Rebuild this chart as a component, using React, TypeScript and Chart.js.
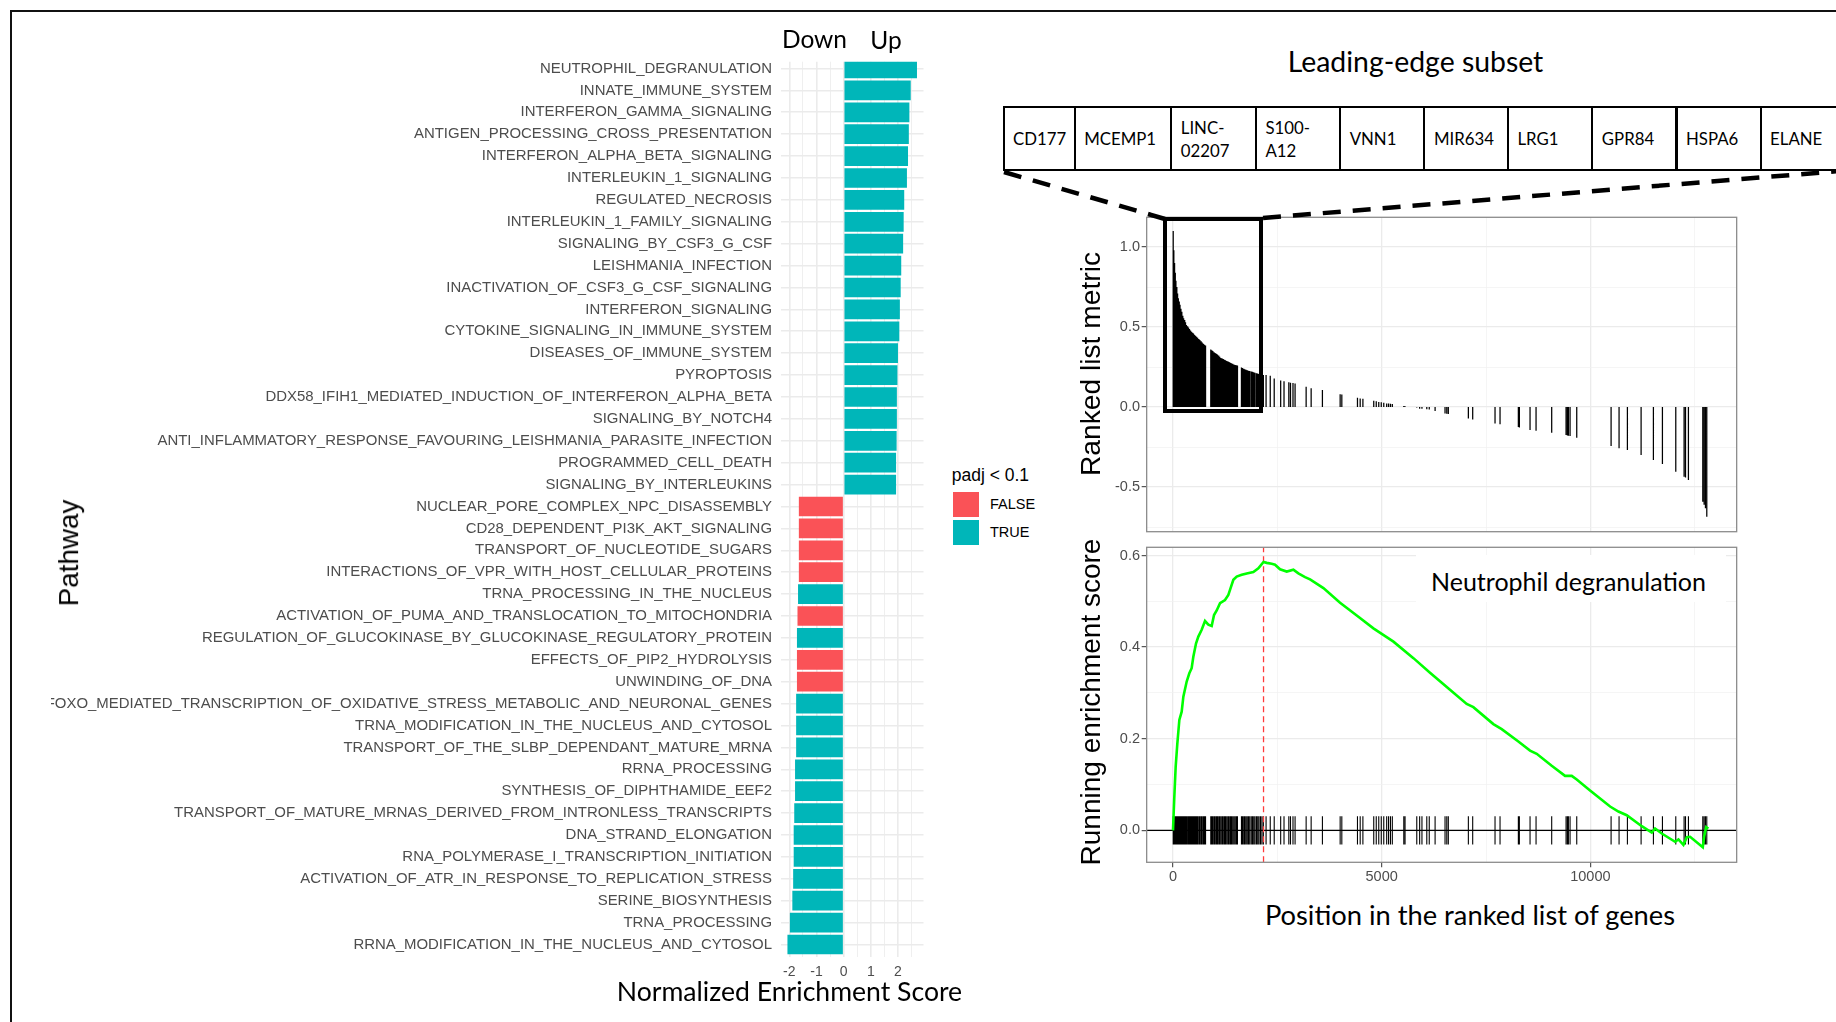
import React, { useEffect, useRef } from "react";
import { Chart, registerables } from "chart.js";

Chart.register(...registerables);

// ---------------- data ----------------
const pathways = [
  "NEUTROPHIL_DEGRANULATION",
  "INNATE_IMMUNE_SYSTEM",
  "INTERFERON_GAMMA_SIGNALING",
  "ANTIGEN_PROCESSING_CROSS_PRESENTATION",
  "INTERFERON_ALPHA_BETA_SIGNALING",
  "INTERLEUKIN_1_SIGNALING",
  "REGULATED_NECROSIS",
  "INTERLEUKIN_1_FAMILY_SIGNALING",
  "SIGNALING_BY_CSF3_G_CSF",
  "LEISHMANIA_INFECTION",
  "INACTIVATION_OF_CSF3_G_CSF_SIGNALING",
  "INTERFERON_SIGNALING",
  "CYTOKINE_SIGNALING_IN_IMMUNE_SYSTEM",
  "DISEASES_OF_IMMUNE_SYSTEM",
  "PYROPTOSIS",
  "DDX58_IFIH1_MEDIATED_INDUCTION_OF_INTERFERON_ALPHA_BETA",
  "SIGNALING_BY_NOTCH4",
  "ANTI_INFLAMMATORY_RESPONSE_FAVOURING_LEISHMANIA_PARASITE_INFECTION",
  "PROGRAMMED_CELL_DEATH",
  "SIGNALING_BY_INTERLEUKINS",
  "NUCLEAR_PORE_COMPLEX_NPC_DISASSEMBLY",
  "CD28_DEPENDENT_PI3K_AKT_SIGNALING",
  "TRANSPORT_OF_NUCLEOTIDE_SUGARS",
  "INTERACTIONS_OF_VPR_WITH_HOST_CELLULAR_PROTEINS",
  "TRNA_PROCESSING_IN_THE_NUCLEUS",
  "ACTIVATION_OF_PUMA_AND_TRANSLOCATION_TO_MITOCHONDRIA",
  "REGULATION_OF_GLUCOKINASE_BY_GLUCOKINASE_REGULATORY_PROTEIN",
  "EFFECTS_OF_PIP2_HYDROLYSIS",
  "UNWINDING_OF_DNA",
  "FOXO_MEDIATED_TRANSCRIPTION_OF_OXIDATIVE_STRESS_METABOLIC_AND_NEURONAL_GENES",
  "TRNA_MODIFICATION_IN_THE_NUCLEUS_AND_CYTOSOL",
  "TRANSPORT_OF_THE_SLBP_DEPENDANT_MATURE_MRNA",
  "RRNA_PROCESSING",
  "SYNTHESIS_OF_DIPHTHAMIDE_EEF2",
  "TRANSPORT_OF_MATURE_MRNAS_DERIVED_FROM_INTRONLESS_TRANSCRIPTS",
  "DNA_STRAND_ELONGATION",
  "RNA_POLYMERASE_I_TRANSCRIPTION_INITIATION",
  "ACTIVATION_OF_ATR_IN_RESPONSE_TO_REPLICATION_STRESS",
  "SERINE_BIOSYNTHESIS",
  "TRNA_PROCESSING",
  "RRNA_MODIFICATION_IN_THE_NUCLEUS_AND_CYTOSOL",
];

const nesValues = [
  2.7, 2.47, 2.42, 2.4, 2.37, 2.33, 2.23, 2.21, 2.19, 2.12, 2.1, 2.07, 2.05, 2.0,
  1.98, 1.96, 1.96, 1.95, 1.93, 1.93,
  -1.65, -1.65, -1.65, -1.65, -1.68, -1.7, -1.72, -1.72, -1.72, -1.75, -1.75,
  -1.75, -1.79, -1.79, -1.82, -1.84, -1.84, -1.86, -1.89, -1.98, -2.07,
];

// padj < 0.1 ?
const padjSignificant = [
  true, true, true, true, true, true, true, true, true, true, true, true, true,
  true, true, true, true, true, true, true,
  false, false, false, false, true, false, true, false, false, true, true, true,
  true, true, true, true, true, true, true, true, true,
];
const padjLegendLabels = ["FALSE", "TRUE"];

const nesMajorTicks = [-2, -1, 0, 1, 2];
const nesMinorTicks = [-1.5, -0.5, 0.5, 1.5, 2.5];

const leadingEdgeGenes = [
  "CD177", "MCEMP1", "LINC-\n02207", "S100-\nA12", "VNN1",
  "MIR634", "LRG1", "GPR84", "HSPA6", "ELANE",
];

// gene-set hits: position in ranked list and the ranked list metric there
const hitPositions = [
  5, 20, 38, 55, 70, 92, 110, 128, 150, 168, 190, 212, 235, 255, 280, 300, 322,
  350, 372, 395, 420, 445, 470, 490, 515, 540, 565, 590, 620, 645, 675, 700, 730,
  755, 780,
  905, 930, 955, 985, 1010, 1040, 1065, 1095, 1120, 1150, 1180, 1205, 1235, 1260,
  1290, 1320, 1345, 1375, 1400, 1430, 1460, 1490, 1520, 1545,
  1640, 1665, 1695, 1720, 1750, 1780, 1810, 1840, 1875, 1905, 1935, 1965, 2000,
  2030, 2060, 2095, 2130, 2165,
  2230, 2330, 2425, 2580, 2660, 2775, 2815, 2875, 2925, 3190, 3310, 3580, 4005,
  4045, 4420, 4485, 4550, 4810, 4870, 4930, 4990, 5050, 5120, 5165, 5210, 5255,
  5530, 5560, 5841, 5910, 5965, 6081, 6140, 6280, 6518, 6560, 6597, 7077, 7181,
  7716, 7836, 8275, 8299, 8555, 8699, 9074, 9418, 9450, 9474, 9514, 9674, 10497,
  10688, 10888, 11216, 11511, 11727, 12047, 12246, 12280, 12350, 12694, 12726,
  12758, 12790,
];
const hitMetrics = [
  1.1, 0.98, 0.9, 0.84, 0.79, 0.75, 0.71, 0.68, 0.66, 0.64, 0.615, 0.595, 0.57,
  0.555, 0.544, 0.53, 0.513, 0.505, 0.498, 0.488, 0.478, 0.47, 0.464, 0.459,
  0.452, 0.446, 0.44, 0.433, 0.425, 0.419, 0.411, 0.404, 0.396, 0.389, 0.384,
  0.36, 0.355, 0.35, 0.343, 0.338, 0.333, 0.329, 0.322, 0.315, 0.307, 0.303, 0.3,
  0.296, 0.293, 0.288, 0.284, 0.281, 0.277, 0.274, 0.27, 0.266, 0.263, 0.261,
  0.259,
  0.247, 0.244, 0.24, 0.236, 0.233, 0.23, 0.227, 0.225, 0.222, 0.22, 0.217,
  0.215, 0.211, 0.209, 0.207, 0.205, 0.203, 0.201,
  0.2, 0.195, 0.179, 0.166, 0.162, 0.155, 0.152, 0.15, 0.148, 0.127, 0.117,
  0.106, 0.08, 0.078, 0.058, 0.054, 0.052, 0.04, 0.037, 0.032, 0.03, 0.027,
  0.023, 0.022, 0.02, 0.019, 0.007, 0.005, -0.002, -0.01, -0.011, -0.013, -0.015,
  -0.025, -0.04, -0.042, -0.044, -0.071, -0.077, -0.102, -0.108, -0.125, -0.128,
  -0.144, -0.148, -0.16, -0.175, -0.177, -0.179, -0.181, -0.192, -0.244, -0.258,
  -0.269, -0.3, -0.331, -0.356, -0.404, -0.435, -0.44, -0.456, -0.592, -0.61,
  -0.633, -0.685,
];

// running enrichment score curve
const esPositions = [
  0, 30, 64, 104, 152, 208, 248, 328, 391, 447, 487, 551, 607, 687, 767, 847,
  927, 983, 1047, 1127, 1246, 1326, 1366, 1446, 1526, 1646, 1766, 1925, 2045,
  2169, 2245, 2365, 2445, 2565, 2725, 2884, 3004, 3164, 3284, 3604, 4003, 4403,
  4802, 5282, 5761, 6158, 6637, 7037, 7197, 7676, 7876, 8275, 8555, 8715, 9074,
  9394, 9554, 9674, 9993, 10473, 10673, 10872, 11232, 11471, 11551, 11711,
  12031, 12111, 12230, 12310, 12390, 12694, 12726, 12774, 12830,
];
const esValues = [
  0, 0.07, 0.139, 0.19, 0.241, 0.259, 0.292, 0.325, 0.343, 0.354, 0.379, 0.408,
  0.423, 0.438, 0.457, 0.449, 0.446, 0.47, 0.48, 0.496, 0.503, 0.514, 0.525,
  0.547, 0.554, 0.558, 0.561, 0.564, 0.572, 0.586, 0.584, 0.582, 0.58, 0.57,
  0.565, 0.569, 0.561, 0.553, 0.548, 0.529, 0.497, 0.469, 0.441, 0.412, 0.376,
  0.344, 0.307, 0.276, 0.269, 0.232, 0.221, 0.194, 0.174, 0.167, 0.141, 0.119,
  0.119, 0.111, 0.087, 0.052, 0.041, 0.033, 0.009, -0.005, 0.004, -0.007,
  -0.025, -0.02, -0.032, -0.015, -0.014, -0.037, -0.014, 0.007, 0.004,
];
const peakPosition = 2169;

const geneMajorTicks = [0, 5000, 10000];
const geneMinorTicks = [2500, 7500, 12500];
const rankMajorTicks = [-0.5, 0, 0.5, 1];
const rankMinorTicks = [-0.75, -0.25, 0.25, 0.75];
const esMajorTicks = [0, 0.2, 0.4, 0.6];
const esMinorTicks = [0.1, 0.3, 0.5];

// ---------------- style ----------------
const SANS = '"Liberation Sans", Arial, Helvetica, sans-serif';
const CAL = 'Lato, "Open Sans", sans-serif';
const TICK_COLOR = "#4d4d4d";
const TEAL = "#00B6B9";
const RED = "#FA5257";
const GENE_MIN = -631;
const GENE_MAX = 13506;

const near = (list: number[], v: number) => list.some((m) => Math.abs(m - v) < 1e-9);

const zeroPad = (s: any) => {
  s.paddingTop = 0;
  s.paddingBottom = 0;
  s.paddingLeft = 0;
  s.paddingRight = 0;
};

const panelBorder = {
  id: "panelBorder",
  afterDraw(chart: any, _args: any, opts: any) {
    if (!opts || !opts.color) return;
    const { ctx, chartArea } = chart;
    ctx.save();
    ctx.strokeStyle = opts.color;
    ctx.lineWidth = opts.width;
    ctx.strokeRect(
      chartArea.left,
      chartArea.top,
      chartArea.right - chartArea.left,
      chartArea.bottom - chartArea.top
    );
    ctx.restore();
  },
};

function gridScale(o: {
  min: number;
  max: number;
  major: number[];
  minor: number[];
  fmt: (v: number) => string;
  fit: (s: any) => void;
  showLabels: boolean;
  drawTicks: boolean;
  padding: number;
}) {
  const all = [...o.major, ...o.minor].sort((a, b) => a - b);
  return {
    type: "linear",
    min: o.min,
    max: o.max,
    offset: false,
    afterBuildTicks: (axis: any) => {
      axis.ticks = all.map((value) => ({ value }));
    },
    afterFit: (s: any) => {
      zeroPad(s);
      o.fit(s);
    },
    grid: {
      offset: false,
      color: (c: any) => (c.tick && !near(o.major, c.tick.value) ? "#F1F1F1" : "#EBEBEB"),
      lineWidth: (c: any) => (c.tick && !near(o.major, c.tick.value) ? 0.7 : 1.3),
      drawTicks: o.drawTicks,
      tickLength: 5,
      tickWidth: 1.1,
      tickColor: (c: any) => (c.tick && near(o.major, c.tick.value) ? "#444" : "rgba(0,0,0,0)"),
    },
    border: { display: false },
    ticks: {
      display: o.showLabels,
      autoSkip: false,
      maxRotation: 0,
      minRotation: 0,
      padding: o.padding,
      color: TICK_COLOR,
      font: { family: SANS, size: 14.5 },
      callback: (v: number) => (near(o.major, v) ? o.fmt(v) : ""),
    },
  };
}

type Box = { left: number; top: number; width: number; height: number };

function ChartCanvas({ box, build }: { box: Box; build: () => any }) {
  const ref = useRef<HTMLCanvasElement>(null);
  useEffect(() => {
    const chart = new Chart(ref.current as HTMLCanvasElement, build());
    return () => chart.destroy();
  }, []);
  return (
    <canvas
      ref={ref}
      width={box.width}
      height={box.height}
      style={{
        position: "absolute",
        left: box.left,
        top: box.top,
        width: box.width,
        height: box.height,
      }}
    />
  );
}

const commonOptions = {
  responsive: false,
  animation: false,
  devicePixelRatio: 1,
  events: [],
};

// ---------- Chart A : NES bars ----------
const barBox: Box = { left: 51, top: 50, width: 890, height: 950 };
function buildBars() {
  const allX = [...nesMajorTicks, ...nesMinorTicks].sort((a, b) => a - b);
  return {
    type: "bar",
    data: {
      datasets: [
        {
          data: nesValues.map((v, i) => ({ x: v, y: i })),
          backgroundColor: padjSignificant.map((s) => (s ? TEAL : RED)),
          borderWidth: 0,
          barPercentage: 0.9,
          categoryPercentage: 1,
        },
      ],
    },
    options: {
      ...commonOptions,
      indexAxis: "y",
      layout: { padding: { top: 11.7, right: 17.5, left: 0, bottom: 0 } },
      plugins: { legend: { display: false }, tooltip: { enabled: false } },
      scales: {
        y: {
          type: "linear",
          reverse: true,
          min: -0.31,
          max: 40.57,
          offset: false,
          afterBuildTicks: (axis: any) => {
            axis.ticks = pathways.map((_, i) => ({ value: i }));
          },
          afterFit: (s: any) => {
            zeroPad(s);
            s.width = 730.2;
          },
          grid: { offset: false, color: "#EBEBEB", lineWidth: 1.6, drawTicks: false },
          border: { display: false },
          ticks: {
            autoSkip: false,
            padding: 9.2,
            color: TICK_COLOR,
            font: { family: SANS, size: 14.95 },
            callback: (v: number) => pathways[v],
          },
        },
        x: {
          type: "linear",
          min: -2.3,
          max: 2.94,
          offset: false,
          afterBuildTicks: (axis: any) => {
            axis.ticks = allX.map((value) => ({ value }));
          },
          afterFit: (s: any) => {
            zeroPad(s);
            s.height = 43;
          },
          grid: {
            offset: false,
            color: "#EBEBEB",
            lineWidth: (c: any) => (c.tick && !near(nesMajorTicks, c.tick.value) ? 0.8 : 1.6),
            drawTicks: false,
          },
          border: { display: false },
          ticks: {
            autoSkip: false,
            maxRotation: 0,
            padding: 6.6,
            color: TICK_COLOR,
            font: { family: SANS, size: 14 },
            callback: (v: number) => (near(nesMajorTicks, v) ? String(v) : ""),
          },
        },
      },
    },
  };
}

// ---------- Chart B : ranked list metric ----------
const rankBox: Box = { left: 1096, top: 208, width: 650, height: 330 };
function buildRanked() {
  const segs: any[] = [];
  hitPositions.forEach((p, i) => {
    segs.push({ x: p, y: 0 }, { x: p, y: hitMetrics[i] }, { x: p, y: null });
  });
  return {
    type: "line",
    data: {
      datasets: [
        {
          data: segs,
          borderColor: "#000",
          borderWidth: 1.25,
          pointRadius: 0,
          spanGaps: false,
          tension: 0,
          fill: false,
        },
      ],
    },
    options: {
      ...commonOptions,
      layout: { padding: { top: 9.3, right: 9.33, left: 0, bottom: 0 } },
      plugins: {
        legend: { display: false },
        tooltip: { enabled: false },
        panelBorder: { color: "#8c8c8c", width: 1.3 },
      },
      scales: {
        x: gridScale({
          min: GENE_MIN,
          max: GENE_MAX,
          major: geneMajorTicks,
          minor: geneMinorTicks,
          fmt: (v) => String(v),
          fit: (s: any) => {
            s.height = 6.3;
          },
          showLabels: false,
          drawTicks: false,
          padding: 0,
        }),
        y: gridScale({
          min: -0.779,
          max: 1.186,
          major: rankMajorTicks,
          minor: rankMinorTicks,
          fmt: (v) => v.toFixed(1),
          fit: (s: any) => {
            s.width = 50.67;
          },
          showLabels: true,
          drawTicks: true,
          padding: 1.7,
        }),
      },
    },
    plugins: [panelBorder],
  };
}

// ---------- Chart C : running enrichment score ----------
const esBox: Box = { left: 1096, top: 538, width: 650, height: 360 };
function buildES() {
  const ticks: any[] = [];
  hitPositions.forEach((p) => {
    ticks.push({ x: p, y: -0.031 }, { x: p, y: 0.031 }, { x: p, y: null });
  });
  const line = (data: any[], color: string, width: number, extra: any = {}) => ({
    data,
    borderColor: color,
    borderWidth: width,
    pointRadius: 0,
    spanGaps: false,
    tension: 0,
    fill: false,
    ...extra,
  });
  return {
    type: "line",
    data: {
      datasets: [
        line(
          esPositions.map((x, i) => ({ x, y: esValues[i] })),
          "#00FF00",
          2.6
        ),
        line(
          [
            { x: peakPosition, y: -0.0698 },
            { x: peakPosition, y: 0.618 },
          ],
          "#ff3b3b",
          1.3,
          { borderDash: [6, 4] }
        ),
        line(
          [
            { x: GENE_MIN, y: 0 },
            { x: GENE_MAX, y: 0 },
          ],
          "#000",
          1.3
        ),
        line(ticks, "#000", 1.1),
      ],
    },
    options: {
      ...commonOptions,
      layout: { padding: { top: 9.3, right: 9.33, left: 0, bottom: 0 } },
      plugins: {
        legend: { display: false },
        tooltip: { enabled: false },
        panelBorder: { color: "#8c8c8c", width: 1.3 },
      },
      scales: {
        x: gridScale({
          min: GENE_MIN,
          max: GENE_MAX,
          major: geneMajorTicks,
          minor: geneMinorTicks,
          fmt: (v) => String(v),
          fit: (s: any) => {
            s.height = 35.7;
          },
          showLabels: true,
          drawTicks: true,
          padding: 1,
        }),
        y: gridScale({
          min: -0.0698,
          max: 0.618,
          major: esMajorTicks,
          minor: esMinorTicks,
          fmt: (v) => v.toFixed(1),
          fit: (s: any) => {
            s.width = 50.67;
          },
          showLabels: true,
          drawTicks: true,
          padding: 1.7,
        }),
      },
    },
    plugins: [panelBorder],
  };
}

// ---------- text helpers ----------
function Label(props: {
  x: number;
  y: number;
  text: string;
  size: number;
  family: string;
  anchor?: "start" | "middle";
  rotate?: boolean;
  color?: string;
}) {
  const tx = props.anchor === "start" ? "0" : "-50%";
  return (
    <div
      style={{
        position: "absolute",
        left: props.x,
        top: props.y,
        transform: `translate(${tx}, -50%)${props.rotate ? " rotate(-90deg)" : ""}`,
        fontFamily: props.family,
        fontSize: props.size,
        lineHeight: 1,
        whiteSpace: "nowrap",
        color: props.color || "#000",
      }}
    >
      {props.text}
    </div>
  );
}

const tableEdges = [1003.5, 1074.7, 1171.3, 1256, 1340.2, 1424.4, 1508, 1592.3, 1676.5, 1760.6, 1845];

export default function App() {
  return (
    <div
      style={{
        position: "fixed",
        left: 0,
        top: 0,
        width: 1836,
        height: 1022,
        overflow: "hidden",
        background: "#fff",
      }}
    >
      {/* outer frame */}
      <div
        style={{
          position: "absolute",
          left: 9.5,
          top: 9.5,
          width: 1900,
          height: 1100,
          borderTop: "2.5px solid #111",
          borderLeft: "2.5px solid #111",
        }}
      />

      <ChartCanvas box={barBox} build={buildBars} />
      <ChartCanvas box={rankBox} build={buildRanked} />
      <ChartCanvas box={esBox} build={buildES} />

      {/* bar chart texts */}
      <Label x={814.5} y={38.6} text="Down" size={24.5} family={CAL} />
      <Label x={886} y={40.2} text="Up" size={24.5} family={CAL} />
      <Label x={789.5} y={990.5} text="Normalized Enrichment Score" size={26.6} family={CAL} />
      <Label x={69} y={553} text="Pathway" size={27.8} family={SANS} rotate />

      {/* legend */}
      <Label x={951.7} y={476} text="padj < 0.1" size={17.5} family={SANS} anchor="start" />
      <div style={{ position: "absolute", left: 952.7, top: 492.3, width: 26.7, height: 25, background: RED }} />
      <div style={{ position: "absolute", left: 952.7, top: 520, width: 26.7, height: 25, background: TEAL }} />
      <Label x={990} y={504.3} text={padjLegendLabels[0]} size={14.5} family={SANS} anchor="start" />
      <Label x={990} y={531.7} text={padjLegendLabels[1]} size={14.5} family={SANS} anchor="start" />

      {/* GSEA texts */}
      <Label x={1415.5} y={61.2} text="Leading-edge subset" size={28.4} family={CAL} />
      <Label x={1090} y={364} text="Ranked list metric" size={28.2} family={SANS} rotate />
      <Label x={1091} y={702} text="Running enrichment score" size={28} family={SANS} rotate />
      <Label x={1470} y={914.7} text="Position in the ranked list of genes" size={27.3} family={CAL} />

      {/* gene set name box */}
      <div
        style={{
          position: "absolute",
          left: 1415.6,
          top: 555,
          width: 310,
          height: 47,
          background: "#fff",
        }}
      />
      <Label x={1431} y={581.3} text="Neutrophil degranulation" size={25} family={CAL} anchor="start" />

      {/* leading edge box */}
      <div
        style={{
          position: "absolute",
          left: 1162.7,
          top: 217.3,
          width: 100.6,
          height: 196,
          border: "4.4px solid #000",
          boxSizing: "border-box",
        }}
      />

      {/* leading-edge gene table */}
      {leadingEdgeGenes.map((g, i) => (
        <div
          key={g}
          style={{
            position: "absolute",
            left: tableEdges[i] - 1,
            top: 106.4,
            width: tableEdges[i + 1] - tableEdges[i] + 2,
            height: 65.1,
            border: "2px solid #000",
            boxSizing: "border-box",
            display: "flex",
            alignItems: "center",
            paddingLeft: 8.5,
            fontFamily: CAL,
            fontSize: 16.8,
            lineHeight: "23px",
            whiteSpace: "pre",
            color: "#000",
            background: "#fff",
          }}
        >
          {g}
        </div>
      ))}

      {/* zoom connector lines */}
      <svg
        width={1836}
        height={1022}
        style={{ position: "absolute", left: 0, top: 0, pointerEvents: "none" }}
      >
        <line x1={1004} y1={172} x2={1165} y2={219} stroke="#000" strokeWidth={4.5} strokeDasharray="18 12" />
        <line x1={1263} y1={218} x2={1840} y2={171} stroke="#000" strokeWidth={4.5} strokeDasharray="18 12" />
      </svg>
    </div>
  );
}
